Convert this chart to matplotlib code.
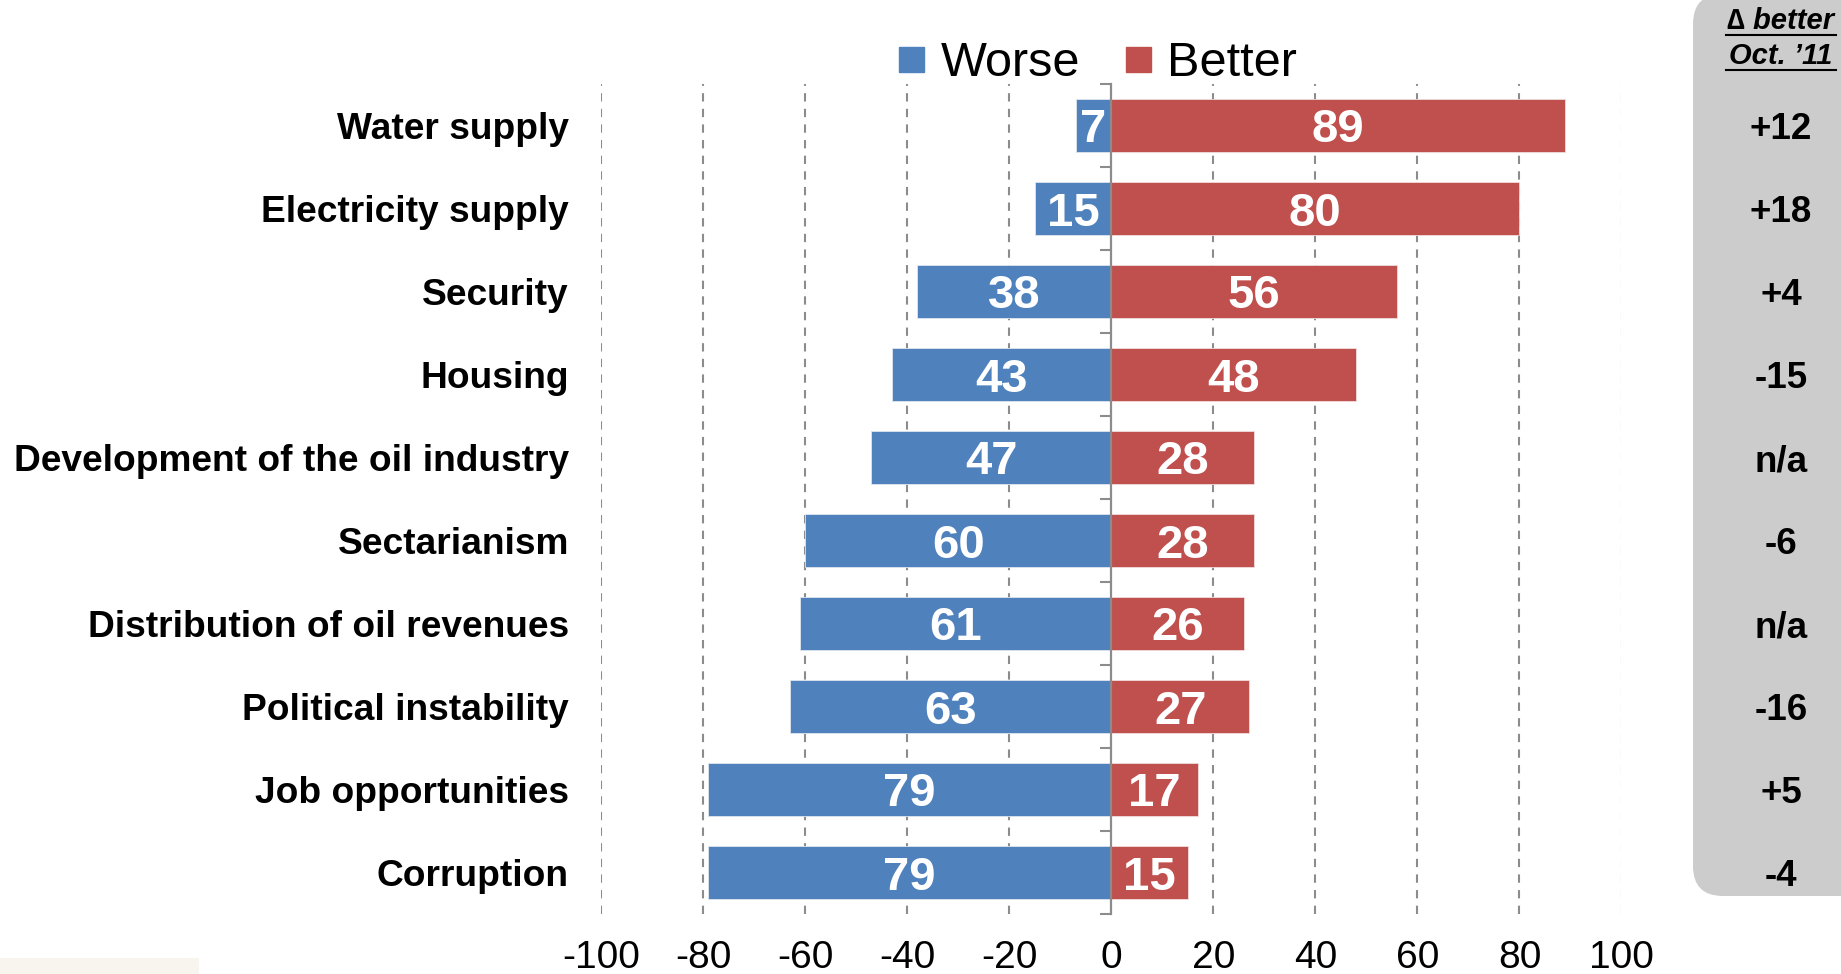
import matplotlib
matplotlib.use("Agg")
import matplotlib.pyplot as plt
from matplotlib.lines import Line2D
from matplotlib.patches import FancyBboxPatch, Rectangle
import matplotlib.transforms as mtransforms

categories = ["Water supply", "Electricity supply", "Security", "Housing",
              "Development of the oil industry", "Sectarianism",
              "Distribution of oil revenues", "Political instability",
              "Job opportunities", "Corruption"]
worse = [7, 15, 38, 43, 47, 60, 61, 63, 79, 79]
better = [89, 80, 56, 48, 28, 28, 26, 27, 17, 15]
delta = ["+12", "+18", "+4", "-15", "n/a", "-6", "n/a", "-16", "+5", "-4"]
xticks = [-100, -80, -60, -40, -20, 0, 20, 40, 60, 80, 100]

blue = "#4F81BD"
red = "#C0504D"
W, H = 1841, 974

plt.rcParams['font.family'] = ['Liberation Sans', 'DejaVu Sans']

fig = plt.figure(figsize=(W / 100, H / 100), dpi=100)
ax = fig.add_axes([601 / W, 1 - 914 / H, (1621.5 - 601) / W, (914 - 84) / H])

ypos = list(range(len(categories)))
ax.barh(ypos, [-w for w in worse], height=0.65, color=blue, edgecolor="#dfe6f0", linewidth=0.6, zorder=2)
ax.barh(ypos, better, height=0.65, color=red, edgecolor="#f0dcdc", linewidth=0.6, zorder=2)

for i in ypos:
    ax.text(-worse[i] / 2, i, str(worse[i]), ha="center", va="center_baseline",
            color="white", fontsize=34, fontweight="bold", zorder=3)
    ax.text(better[i] / 2, i, str(better[i]), ha="center", va="center_baseline",
            color="white", fontsize=34, fontweight="bold", zorder=3)

ax.set_xlim(-100, 100)
ax.set_ylim(len(categories) - 0.5, -0.5)

# dashed vertical grid
for x in xticks:
    if x != 0:
        ax.axvline(x, color="#8c8c8c", lw=1.5, ls=(0, (4, 3.5)), zorder=1)

for s in ["top", "right", "bottom"]:
    ax.spines[s].set_visible(False)
ax.spines["left"].set_position(("data", 0))
ax.spines["left"].set_color("#8c8c8c")
ax.spines["left"].set_linewidth(1.6)
ax.spines["left"].set_zorder(4)

ax.set_yticks([i - 0.5 for i in range(len(categories) + 1)])
ax.set_yticks(ypos, minor=True)
ax.tick_params(axis="y", which="major", length=8, width=1.5, color="#8c8c8c", direction="out", labelleft=False)
ax.tick_params(axis="y", which="minor", length=4.5, width=1.5, color="#8c8c8c", direction="out", labelleft=False)

ax.set_xticks(xticks)
ax.set_xticklabels([str(x) for x in xticks])
ax.tick_params(axis="x", length=0, pad=19, labelsize=28)

# category labels
trans = mtransforms.blended_transform_factory(fig.transFigure, ax.transData)
for i, c in enumerate(categories):
    ax.text(569 / W, i, c, transform=trans, ha="right", va="center_baseline",
            fontsize=26.7, fontweight="bold", clip_on=False)

# legend
handles = [Line2D([], [], marker="s", ls="", color=blue, markersize=18, label="Worse"),
           Line2D([], [], marker="s", ls="", color=red, markersize=18, label="Better")]
fig.legend(handles=handles, loc="center", bbox_to_anchor=(1097 / W, 1 - 64 / H), ncol=2,
           frameon=False, fontsize=35, handlelength=0.6, handletextpad=0.3, columnspacing=0.9)

# right panel (pixel coordinates)
panel = FancyBboxPatch((1693, H - 896), 200, 896 + 6,
                       boxstyle="round,pad=0,rounding_size=30",
                       transform=mtransforms.IdentityTransform(),
                       facecolor="#cccccc", edgecolor="none", zorder=-1)
fig.patches.append(panel)
fig.patches.append(Rectangle((0, 0), 199 / W, 16 / H, transform=fig.transFigure,
                             facecolor="#f7f5ee", edgecolor="none", zorder=-1))

fig.text(1781 / W, 1 - 21 / H, "\u2206 better", ha="center", va="center", fontsize=21,
         fontweight="bold", style="italic")
fig.text(1781 / W, 1 - 56 / H, "Oct. \u201911", ha="center", va="center", fontsize=21,
         fontweight="bold", style="italic")
fig.add_artist(Line2D([1726 / W, 1836 / W], [1 - 35 / H, 1 - 35 / H], color="black", lw=1.5))
fig.add_artist(Line2D([1726 / W, 1836 / W], [1 - 70 / H, 1 - 70 / H], color="black", lw=1.5))

for i, d in enumerate(delta):
    ax.text(1781 / W, i, d, transform=trans, ha="center", va="center_baseline",
            fontsize=26.5, fontweight="bold", clip_on=False)

fig.savefig("out.png", dpi=100)
